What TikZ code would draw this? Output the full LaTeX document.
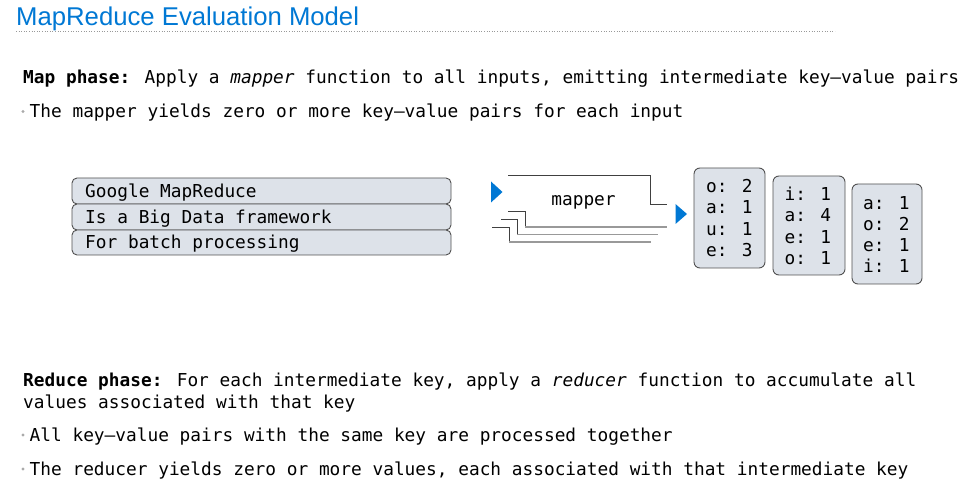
\documentclass[tikz,border=0pt]{standalone}
\usepackage{fontspec}
\newfontfamily\titlefont{Liberation Sans}
\newfontfamily\monofont{DejaVu Sans Mono}
\definecolor{titleblue}{RGB}{0,120,212}
\definecolor{boxfill}{RGB}{221,226,233}
\definecolor{boxline}{RGB}{80,80,80}
\definecolor{bulletgray}{RGB}{170,170,170}
\tikzset{
  txt/.style={anchor=base west, inner sep=0pt, font=\monofont\fontsize{17.8}{21.5}\selectfont},
  inbox/.style={draw=boxline, fill=boxfill, line width=0.9pt, rounded corners=5pt},
  outbox/.style={draw=boxline, fill=boxfill, line width=0.9pt, rounded corners=6pt},
  bul/.style={circle, fill=bulletgray, inner sep=0pt, minimum size=3.4pt},
  tri/.style={fill=titleblue},
  darkln/.style={draw=black!75, line width=0.8pt},
  grayln/.style={draw=black!40, line width=1.6pt},
}
\begin{document}
\begin{tikzpicture}[x=1pt,y=-1pt]
\useasboundingbox (0,0) rectangle (969,502);
% title
\node[anchor=base west, inner sep=0pt, font=\titlefont\fontsize{25.7}{30}\selectfont, text=titleblue] (title) at (16,26) {MapReduce Evaluation Model};
\draw[black!40, dotted, line width=0.6pt] (16,31) -- (835,31);
% map phase text
\node[txt] (map) at (23,84) {\textbf{Map phase:} Apply a \textit{mapper} function to all inputs, emitting intermediate key–value pairs};
\node[bul] (b1) at (23,111.5) {};
\node[txt] (map2) at (29.5,117.5) {The mapper yields zero or more key–value pairs for each input};
% input boxes
\path[inbox] (72,178) rectangle (451,204);
\path[inbox] (72,204) rectangle (451,230);
\path[inbox] (72,230) rectangle (451,255);
\node[txt] (in1) at (85,198) {Google MapReduce};
\node[txt] (in2) at (85,223.5) {Is a Big Data framework};
\node[txt] (in3) at (85,249) {For batch processing};
% mapper
\fill[tri] (491,181.5) -- (502.5,192) -- (491,202.5) -- cycle;
\draw[darkln] (508,175) -- (650,175) -- (650,204) -- (667,204);
\node[anchor=base, inner sep=0pt, font=\monofont\fontsize{17.8}{21.5}\selectfont] (mapper) at (583.5,206) {mapper};
\draw[darkln] (508,211) -- (525,211) -- (525,227);
\draw[grayln] (525,227) -- (667,227);
\draw[darkln] (501,219) -- (517,219) -- (517,234.5);
\draw[grayln] (517,234.5) -- (658,234.5);
\draw[darkln] (492,227) -- (509,227) -- (509,242);
\draw[grayln] (509,242) -- (651,242);
\fill[tri] (675.5,204) -- (687,214) -- (675.5,224) -- cycle;
% output boxes
\path[outbox] (694,168) rectangle (765,268);
\path[outbox] (773,176) rectangle (845,275);
\path[outbox] (852,184) rectangle (922,284);
\node[txt] (o1) at (706,192.5) {o: 2};
\node[txt] (o2) at (706,214) {a: 1};
\node[txt] (o3) at (706,235.5) {u: 1};
\node[txt] (o4) at (706,256.5) {e: 3};
\node[txt] (p1) at (784.5,201) {i: 1};
\node[txt] (p2) at (784.5,222) {a: 4};
\node[txt] (p3) at (784.5,243.5) {e: 1};
\node[txt] (p4) at (784.5,264.5) {o: 1};
\node[txt] (q1) at (863,209.5) {a: 1};
\node[txt] (q2) at (863,230.5) {o: 2};
\node[txt] (q3) at (863,252) {e: 1};
\node[txt] (q4) at (863,273) {i: 1};
% reduce phase text
\node[txt] (red1) at (23,386) {\textbf{Reduce phase:} For each intermediate key, apply a \textit{reducer} function to accumulate all};
\node[txt] (red2) at (23,408) {values associated with that key};
\node[bul] (b2) at (23,435) {};
\node[txt] (red3) at (29.5,441) {All key–value pairs with the same key are processed together};
\node[bul] (b3) at (23,469) {};
\node[txt] (red4) at (29.5,475) {The reducer yields zero or more values, each associated with that intermediate key};
\end{tikzpicture}
\end{document}
